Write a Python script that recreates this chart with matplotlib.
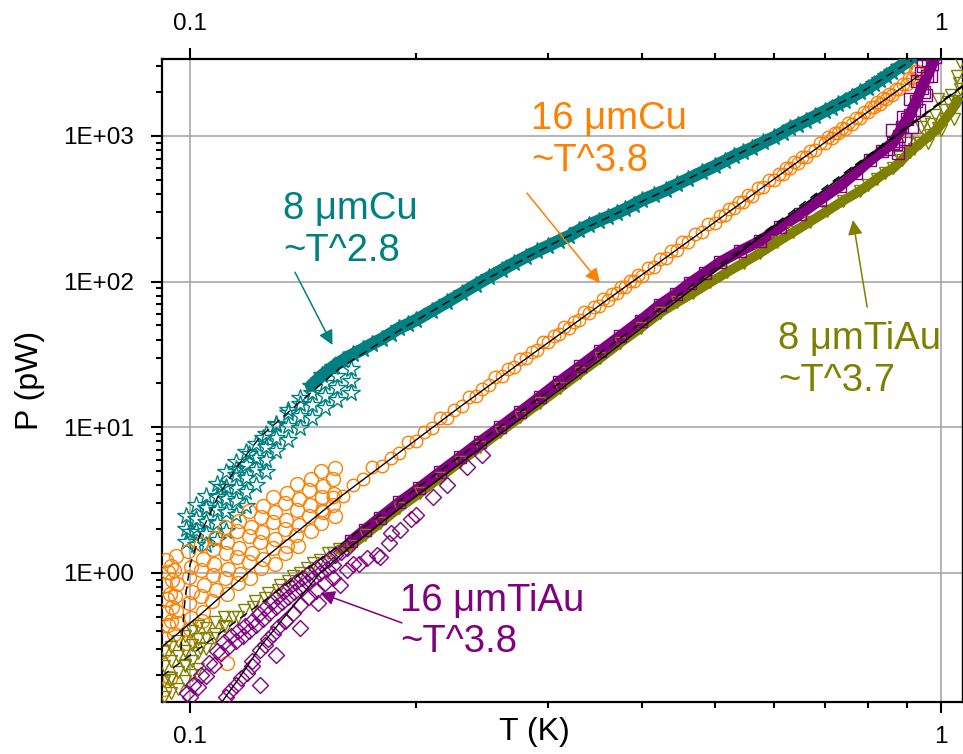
import matplotlib
matplotlib.use("Agg")
import matplotlib.pyplot as plt
from matplotlib.ticker import FixedLocator, NullFormatter, LogLocator

plt.rcParams['font.family'] = ['Liberation Sans', 'DejaVu Sans']

teal = '#008080'
orange = '#ff8000'
purple = '#800080'
olive = '#808000'

# ---- 8 umCu (stars) ----
cu8_T = [0.100, 0.105, 0.110, 0.115, 0.120, 0.125, 0.130, 0.135, 0.140, 0.145, 0.150, 0.155,
         0.160, 0.165, 0.170, 0.175, 0.180, 0.185, 0.190, 0.195, 0.200, 0.210, 0.220, 0.230,
         0.240, 0.250, 0.260, 0.270, 0.280, 0.290, 0.300, 0.310, 0.320, 0.330, 0.340, 0.350,
         0.360, 0.370, 0.380, 0.390, 0.400, 0.415, 0.430, 0.445, 0.460, 0.480, 0.500, 0.515,
         0.530, 0.545, 0.560, 0.580, 0.600, 0.615, 0.630, 0.645, 0.660, 0.680, 0.700, 0.715,
         0.730, 0.745, 0.760, 0.780, 0.800, 0.815, 0.830, 0.845, 0.860, 0.880, 0.900, 0.915, 0.930]
cu8_P = [1.9, 2.8, 3.9, 5.2, 6.6, 8.4, 10.6, 13.2, 16.0, 19.3, 22.8, 26.0,
         29.0, 31.8, 34.5, 37.5, 40.4, 44.0, 48.0, 51.0, 54.5, 63.0, 72.4, 83.0,
         94.8, 107, 120, 134, 148, 162, 176, 191, 206, 226, 245, 262,
         278, 296, 315, 338, 363, 393, 425, 465, 506, 562, 622, 673,
         728, 775, 826, 905, 983, 1055, 1133, 1198, 1266, 1370, 1482, 1568,
         1656, 1750, 1849, 1990, 2132, 2275, 2420, 2580, 2745, 2980, 3216, 3500, 3887]
cu8_noise_T = [0.0989, 0.0989, 0.0989, 0.1020, 0.1020, 0.1020, 0.1020,
               0.1052, 0.1052, 0.1052, 0.1052, 0.1052, 0.1085, 0.1085, 0.1085, 0.1085, 0.1085,
               0.1118, 0.1118, 0.1118, 0.1118, 0.1118, 0.1151, 0.1151, 0.1151, 0.1151, 0.1151,
               0.1187, 0.1187, 0.1187, 0.1187, 0.1187, 0.1224, 0.1224, 0.1224, 0.1224,
               0.1262, 0.1262, 0.1262, 0.1262, 0.1301, 0.1301, 0.1301, 0.1350, 0.1350, 0.1350,
               0.1401, 0.1401, 0.1401, 0.1453, 0.1453, 0.1453, 0.1511, 0.1511, 0.1511,
               0.1570, 0.1570, 0.1570, 0.1636, 0.1636, 0.1636]
cu8_noise_P = [2.45, 2.0, 1.62, 2.95, 2.35, 1.95, 1.55,
               3.4, 2.8, 2.25, 1.85, 1.55, 4.1, 3.3, 2.7, 2.2, 1.68,
               4.9, 3.9, 3.2, 2.6, 1.95, 5.8, 4.7, 3.8, 3.1, 2.5,
               6.8, 5.5, 4.5, 3.6, 2.9, 7.7, 6.2, 5.1, 4.0,
               9.0, 7.3, 6.0, 4.9, 10.4, 8.5, 6.9, 12.5, 10.2, 8.2,
               14.5, 11.9, 9.9, 17.2, 14.2, 11.6, 20.1, 16.4, 13.6,
               22.5, 18.6, 15.4, 25.1, 20.8, 17.2]

# ---- 16 umCu (circles) ----
cu16_T = [0.150, 0.160, 0.170, 0.180, 0.190, 0.200, 0.210, 0.220, 0.230, 0.240, 0.250, 0.260,
          0.270, 0.280, 0.290, 0.300, 0.310, 0.320, 0.330, 0.340, 0.350, 0.360, 0.370, 0.380,
          0.390, 0.400, 0.415, 0.430, 0.445, 0.460, 0.480, 0.500, 0.515, 0.530, 0.545, 0.560,
          0.580, 0.600, 0.615, 0.630, 0.645, 0.660, 0.680, 0.700, 0.715, 0.730, 0.745, 0.760,
          0.780, 0.800, 0.815, 0.830, 0.845, 0.860, 0.880, 0.900, 0.915, 0.930]
cu16_P = [2.7, 3.4, 4.4, 5.4, 6.7, 8.0, 9.9, 11.6, 14.0, 16.3, 19.6, 22.4,
          26.0, 29.8, 34.0, 38.5, 43.5, 48.0, 54.5, 61.0, 68.0, 75.0, 83.0, 92.0,
          101, 110, 127, 145, 166, 187, 218, 254, 285, 318, 354, 390,
          445, 500, 548, 602, 655, 712, 800, 895, 970, 1040, 1120, 1210,
          1335, 1460, 1570, 1670, 1790, 1910, 2090, 2270, 2500, 2800]
cu16_up_T = [0.155, 0.165, 0.175, 0.185, 0.195, 0.205, 0.215, 0.225, 0.235, 0.245, 0.255, 0.265,
             0.275, 0.285, 0.295, 0.305, 0.315, 0.325, 0.335, 0.345, 0.355, 0.365, 0.375, 0.385,
             0.395, 0.4075, 0.4225, 0.4375, 0.4525, 0.470, 0.490, 0.5075, 0.5225, 0.5375, 0.5525,
             0.570, 0.590, 0.6075, 0.6225, 0.6375, 0.6525, 0.670, 0.690, 0.7075, 0.7225, 0.7375,
             0.7525, 0.770, 0.790, 0.8075, 0.8225, 0.8375, 0.8525, 0.870, 0.890, 0.9075, 0.9225]
cu16_up_P = [3.3, 4.0, 5.3, 6.2, 7.9, 9.3, 11.5, 13.2, 16.2, 18.4, 22.3, 25.1,
             29.4, 33.1, 38.3, 42.5, 48.8, 53.0, 61.4, 67.2, 76.1, 82.4, 92.4, 101,
             111, 124, 144, 163, 186, 211, 248, 284, 317, 353, 392,
             439, 496, 550, 604, 659, 718, 793, 890, 979, 1055, 1134,
             1223, 1334, 1465, 1591, 1701, 1817, 1943, 2100, 2290, 2500, 2780]
cu16_noise_T = [0.0930, 0.0936, 0.0926, 0.0933, 0.0928, 0.0935, 0.0927,
                0.0945, 0.0948, 0.0942, 0.0946, 0.0944,
                0.0958, 0.0952, 0.0960, 0.0955, 0.0957, 0.0962, 0.0953,
                0.0995, 0.1003, 0.0998, 0.1006, 0.0996, 0.1002, 0.0999,
                0.1035, 0.1042, 0.1036, 0.1044, 0.1033, 0.1040, 0.1037,
                0.1080, 0.1072, 0.1078, 0.1074, 0.1082, 0.1071,
                0.1114, 0.1121, 0.1116, 0.1123, 0.1115, 0.1120,
                0.1164, 0.1157, 0.1162, 0.1155, 0.1166, 0.1158,
                0.1198, 0.1206, 0.1200, 0.1208, 0.1197, 0.1204,
                0.1250, 0.1242, 0.1248, 0.1241, 0.1252, 0.1244,
                0.1290, 0.1298, 0.1292, 0.1299, 0.1289, 0.1296,
                0.1346, 0.1338, 0.1344, 0.1337, 0.1348, 0.1340,
                0.1388, 0.1396, 0.1390, 0.1397, 0.1386, 0.1394,
                0.1449, 0.1441, 0.1447, 0.1440, 0.1451,
                0.1495, 0.1503, 0.1497, 0.1505, 0.1493,
                0.1559, 0.1551, 0.1557, 0.1550, 0.1561,
                0.112, 0.0925, 0.094, 0.0925, 0.099]
cu16_noise_P = [1.22, 1.01, 0.82, 0.66, 0.53, 0.44, 0.35,
                1.12, 0.90, 0.72, 0.58, 0.47,
                1.30, 1.04, 0.84, 0.69, 0.55, 0.45, 0.38,
                1.42, 1.10, 0.94, 0.74, 0.62, 0.49, 0.41,
                1.58, 1.25, 1.04, 0.82, 0.70, 0.54, 0.47,
                1.75, 1.46, 1.15, 0.97, 0.76, 0.64,
                2.08, 1.62, 1.38, 1.07, 0.92, 0.72,
                2.28, 1.93, 1.49, 1.28, 0.99, 0.85,
                2.66, 2.08, 1.78, 1.38, 1.18, 0.92,
                2.88, 2.44, 1.90, 1.62, 1.25, 1.08,
                3.32, 2.60, 2.22, 1.72, 1.48, 1.15,
                3.55, 3.00, 2.32, 1.99, 1.54, 1.36,
                4.08, 3.20, 2.72, 2.12, 1.81, 1.52,
                4.42, 3.72, 2.92, 2.47, 1.95,
                5.00, 3.95, 3.32, 2.62, 2.20,
                5.28, 4.42, 3.48, 2.92, 2.45,
                0.24, 0.16, 0.19, 0.29, 0.33]

# ---- 16 umTiAu (squares / diamonds) ----
tiau16_T = [0.164, 0.171, 0.179, 0.190, 0.202, 0.215, 0.229, 0.243, 0.259, 0.275, 0.292, 0.310,
            0.331, 0.352, 0.374, 0.398, 0.422, 0.443, 0.463, 0.485, 0.508, 0.540, 0.574, 0.610,
            0.649, 0.690, 0.734, 0.770, 0.804, 0.835, 0.863, 0.888, 0.909, 0.927, 0.943, 0.958,
            0.973, 0.991]
tiau16_P = [1.66, 1.98, 2.39, 3.05, 3.83, 4.9, 6.25, 7.9, 10.05, 12.7, 16.1, 20.5,
            26.3, 33.5, 42.3, 54, 69.1, 82, 97.8, 115, 136, 162, 190, 236,
            290, 365, 455, 560, 680, 790, 900, 1150, 1400, 1750, 2150, 2600,
            3100, 4000]
tiau16_edge_T = [0.86, 0.88, 0.90, 0.92, 0.93, 0.95, 0.96, 0.94, 0.97, 0.98, 0.89, 0.87,
                 0.91, 0.945, 0.85, 0.875, 0.895, 0.915, 0.935, 0.955]
tiau16_edge_P = [1100, 1000, 1300, 1500, 2400, 2000, 3300, 2700, 2600, 3500, 1350, 880,
                 1800, 3000, 820, 760, 950, 1150, 1500, 1900]
# upper low-T branch (two rows) and lower branch
tiau16_up_T = [0.099, 0.101, 0.1035, 0.106, 0.1085, 0.111, 0.1135, 0.116, 0.1185, 0.121,
               0.1235, 0.126, 0.1285, 0.131, 0.1335, 0.136, 0.1385, 0.141, 0.144, 0.147,
               0.150, 0.153, 0.156, 0.159, 0.162,
               0.100, 0.1025, 0.105, 0.1075, 0.110, 0.1125, 0.115, 0.1175, 0.120, 0.1225,
               0.125, 0.1275, 0.130, 0.1325, 0.135, 0.1375, 0.140, 0.143, 0.146, 0.149,
               0.152, 0.155]
tiau16_up_P = [0.15, 0.17, 0.20, 0.24, 0.29, 0.335, 0.37, 0.40, 0.43, 0.47,
               0.52, 0.57, 0.63, 0.69, 0.75, 0.81, 0.87, 0.93, 1.0, 1.08,
               1.16, 1.24, 1.32, 1.40, 1.48,
               0.14, 0.165, 0.195, 0.235, 0.28, 0.31, 0.34, 0.37, 0.40, 0.44,
               0.48, 0.53, 0.58, 0.63, 0.68, 0.74, 0.80, 0.86, 0.93, 1.0,
               1.07, 1.14]
tiau16_lo_T = [0.1117, 0.115, 0.1191, 0.124, 0.127, 0.1308, 0.137, 0.1441, 0.1514, 0.1616,
               0.1776, 0.1904, 0.2105, 0.2338, 0.124, 0.130, 0.140, 0.1584, 0.179, 0.185,
               0.121, 0.134, 0.148, 0.168, 0.200,
               0.113, 0.117, 0.121, 0.126, 0.129, 0.134, 0.140, 0.147, 0.155, 0.165, 0.172,
               0.184, 0.197, 0.220, 0.245]
tiau16_lo_P = [0.141, 0.17, 0.206, 0.296, 0.35, 0.426, 0.531, 0.684, 0.854, 1.05,
               1.33, 1.97, 3.32, 5.34, 0.170, 0.274, 0.419, 0.827, 1.29, 1.88,
               0.23, 0.47, 0.62, 1.15, 2.5,
               0.155, 0.19, 0.25, 0.32, 0.38, 0.47, 0.60, 0.75, 0.93, 1.15, 1.27,
               1.6, 2.35, 4.0, 6.5]

# ---- 8 umTiAu (triangles) ----
tiau8_T = [0.094, 0.0985, 0.1031, 0.1075, 0.1117, 0.116, 0.1214, 0.126, 0.1308, 0.135, 0.1401,
           0.146, 0.1527, 0.158, 0.1637, 0.171, 0.1791, 0.190, 0.2024, 0.215, 0.2288, 0.243,
           0.2587, 0.275, 0.2924, 0.311, 0.3306, 0.352, 0.3737, 0.398, 0.4224, 0.445, 0.4675,
           0.493, 0.519, 0.546, 0.574, 0.604, 0.635, 0.669, 0.705, 0.741, 0.780, 0.800, 0.822,
           0.843, 0.863, 0.886, 0.909, 0.938, 0.967, 0.990, 1.012, 1.033, 1.053]
tiau8_P = [0.184, 0.234, 0.306, 0.36, 0.426, 0.50, 0.585, 0.67, 0.764, 0.88, 1.0,
           1.17, 1.37, 1.45, 1.53, 1.82, 2.20, 2.8, 3.54, 4.5, 5.78, 7.3,
           9.28, 11.7, 14.7, 18.6, 23.6, 29.9, 37.9, 48, 60.9, 72, 83.5,
           99, 116, 135, 157, 186, 218, 258, 305, 360, 420, 460, 510,
           560, 600, 680, 780, 890, 1014, 1130, 1300, 1500, 1750]
tiau8_noise_T = [0.0925, 0.0925, 0.0925, 0.0925, 0.0945, 0.0945, 0.0945, 0.0945,
                 0.0965, 0.0965, 0.0965, 0.0965, 0.0985, 0.0985, 0.0985, 0.0985,
                 0.1005, 0.1005, 0.1005, 0.1005, 0.1025, 0.1025, 0.1025, 0.1025,
                 0.105, 0.105, 0.105, 0.108, 0.108, 0.111, 0.111,
                 0.114, 0.118, 0.122, 0.127, 0.132, 0.137, 0.143, 0.149, 0.155,
                 0.88, 0.90, 0.92, 0.94, 0.96, 0.98, 1.00, 1.02, 1.04, 1.05, 1.06, 1.06,
                 0.99, 0.95, 0.93, 0.97, 1.01, 1.03, 1.055]
tiau8_noise_P = [0.14, 0.18, 0.23, 0.29, 0.15, 0.19, 0.25, 0.31,
                 0.16, 0.21, 0.27, 0.34, 0.18, 0.23, 0.29, 0.37,
                 0.20, 0.25, 0.32, 0.40, 0.22, 0.28, 0.35, 0.43,
                 0.30, 0.36, 0.42, 0.38, 0.46, 0.43, 0.50,
                 0.50, 0.56, 0.64, 0.73, 0.83, 0.95, 1.08, 1.22, 1.38,
                 720, 900, 820, 1150, 900, 1400, 1100, 1700, 1300, 2600, 2100, 3200,
                 1800, 1250, 950, 1200, 1500, 1900, 2300]

# ---- fits ----
fit_cu8_T = [0.0973, 0.0985, 0.1000, 0.1031, 0.1089, 0.1155, 0.1240, 0.1392, 0.1584, 0.1904,
             0.2456, 0.3109, 0.4224, 0.5741, 0.7800, 0.915]
fit_cu8_P = [0.296, 0.653, 1.13, 1.82, 3.32, 5.34, 8.58, 14.5, 25.5, 46.5,
             101, 193, 406, 894, 1971, 3319]
fit_cu16_T = [0.0918, 0.1031, 0.1240, 0.1346, 0.1584, 0.1904, 0.2288, 0.2750, 0.3591, 0.4776,
              0.6490, 0.9319]
fit_cu16_P = [0.311, 0.515, 1.19, 1.68, 3.32, 6.77, 13.8, 27.6, 74.8, 216, 683, 2577]
fit_tiau16_T = [0.1103, 0.1176, 0.1240, 0.1370, 0.1490, 0.1618, 0.1904, 0.2587, 0.3514,
                0.5449, 1.066]
fit_tiau16_P = [0.130, 0.206, 0.311, 0.584, 1.00, 1.44, 2.79, 8.99, 29.0, 165, 2166]
fit_tiau8_T = [0.0918, 0.311, 1.066]
fit_tiau8_P = [0.196, 20.3, 2200]

fig = plt.figure(figsize=(9.63, 7.54), dpi=100)
ax = fig.add_axes([162 / 963, 1 - 702 / 754, 800 / 963, 643 / 754])
ax.set_xscale('log')
ax.set_yscale('log')

mk = dict(linestyle='none', markerfacecolor='none', markeredgewidth=1.0)
# teal (dense band above ~0.145 K)
ax.plot(cu8_T[9:], cu8_P[9:], color=teal, lw=9, solid_capstyle='round', zorder=2)
ax.plot(cu8_T, cu8_P, marker='*', ms=13, color=teal, **mk, zorder=3)
ax.plot(cu8_noise_T, cu8_noise_P, marker='*', ms=13, color=teal, **mk, zorder=3)
# orange
ax.plot(cu16_noise_T, cu16_noise_P, marker='o', ms=10, color=orange, **mk, zorder=3)
ax.plot(cu16_T, cu16_P, marker='o', ms=9, color=orange, **mk, zorder=3)
ax.plot(cu16_up_T, cu16_up_P, marker='o', ms=9, color=orange, **mk, zorder=3)
# olive (dense band only above ~0.16 K)
ax.plot(tiau8_T[13:], tiau8_P[13:], color=olive, lw=7, solid_capstyle='round', zorder=2)
ax.plot(tiau8_T, tiau8_P, marker='v', ms=9, color=olive, **mk, zorder=3)
ax.plot(tiau8_noise_T, tiau8_noise_P, marker='v', ms=9, color=olive, **mk, zorder=3)
# purple
ax.plot(tiau16_T, tiau16_P, color=purple, lw=8, solid_capstyle='round', zorder=2.5)
ax.plot(tiau16_T, tiau16_P, marker='s', ms=8, color=purple, **mk, zorder=3)
ax.plot(tiau16_edge_T, tiau16_edge_P, marker='s', ms=8, color=purple, **mk, zorder=3)
ax.plot(tiau16_up_T, tiau16_up_P, marker='D', ms=8, color=purple, **mk, zorder=3.2)
ax.plot(tiau16_lo_T, tiau16_lo_P, marker='D', ms=8, color=purple, **mk, zorder=3.2)

ax.plot(fit_cu8_T, fit_cu8_P, color='black', lw=1, dashes=(6, 4), zorder=4)
ax.plot(fit_cu16_T, fit_cu16_P, color='black', lw=1, zorder=4)
ax.plot(fit_tiau16_T, fit_tiau16_P, color='black', lw=1, zorder=4)
ax.plot(fit_tiau8_T, fit_tiau8_P, color='black', lw=1, dashes=(6, 4), zorder=4)

ax.set_xlim(0.0918, 1.066)
ax.set_ylim(0.130, 3376)

ax.grid(True, which='major', color='#a0a0a0', lw=1.1, zorder=0)
ax.set_axisbelow(True)

ax.xaxis.set_major_locator(FixedLocator([0.1, 1]))
ax.xaxis.set_minor_locator(FixedLocator([0.2, 0.3, 0.4, 0.5, 0.6, 0.7, 0.8, 0.9]))
ax.xaxis.set_minor_formatter(NullFormatter())
ax.set_xticklabels(['0.1', '1'])
ax.yaxis.set_major_locator(FixedLocator([1, 10, 100, 1000]))
ax.yaxis.set_minor_locator(LogLocator(base=10, subs=range(2, 10)))
ax.yaxis.set_minor_formatter(NullFormatter())
ax.set_yticklabels(['1E+00', '1E+01', '1E+02', '1E+03'])

ax.tick_params(axis='x', which='both', direction='out', top=True, labeltop=True,
               bottom=True, labelbottom=True, labelsize=17.5, width=1.5, pad=9)
ax.tick_params(axis='y', which='both', direction='out', left=True, right=False,
               labelsize=17.5, width=1.5, pad=12)
ax.tick_params(which='major', length=8)
ax.tick_params(which='minor', length=4.5)
for s in ax.spines.values():
    s.set_linewidth(1.6)
ax.spines['right'].set_linewidth(1.0)

ax.set_xlabel('T (K)', fontsize=23)
ax.xaxis.set_label_coords(0.466, -0.024)
ax.set_ylabel('P (pW)', fontsize=23)
ax.yaxis.set_label_coords(-0.146, 0.5)

fs = 27.5
arw = dict(arrowstyle='-|>', lw=1.1, mutation_scale=22, shrinkA=0, shrinkB=0)
ax.annotate('', xy=(0.1548, 36.7), xytext=(0.1380, 116), arrowprops=dict(color=teal, **arw))
ax.text(0.133, 226, '8 μmCu\n~T^2.8', color=teal, fontsize=fs, va='center', ha='left')

ax.annotate('', xy=(0.3514, 97.8), xytext=(0.2809, 406), arrowprops=dict(color=orange, **arw))
ax.text(0.2845, 937, '16 μmCu\n~T^3.8', color=orange, fontsize=fs, va='center', ha='left')

ax.annotate('', xy=(0.763, 265), xytext=(0.797, 66.9), arrowprops=dict(color=olive, **arw))
ax.text(0.6067, 29.0, '8 μmTiAu\n~T^3.7', color=olive, fontsize=fs, va='center', ha='left')

ax.annotate('', xy=(0.1490, 0.729), xytext=(0.1915, 0.454), arrowprops=dict(color=purple, **arw))
ax.text(0.1904, 0.465, '16 μmTiAu\n~T^3.8', color=purple, fontsize=fs, va='center', ha='left')

fig.savefig('out.png', dpi=100)
